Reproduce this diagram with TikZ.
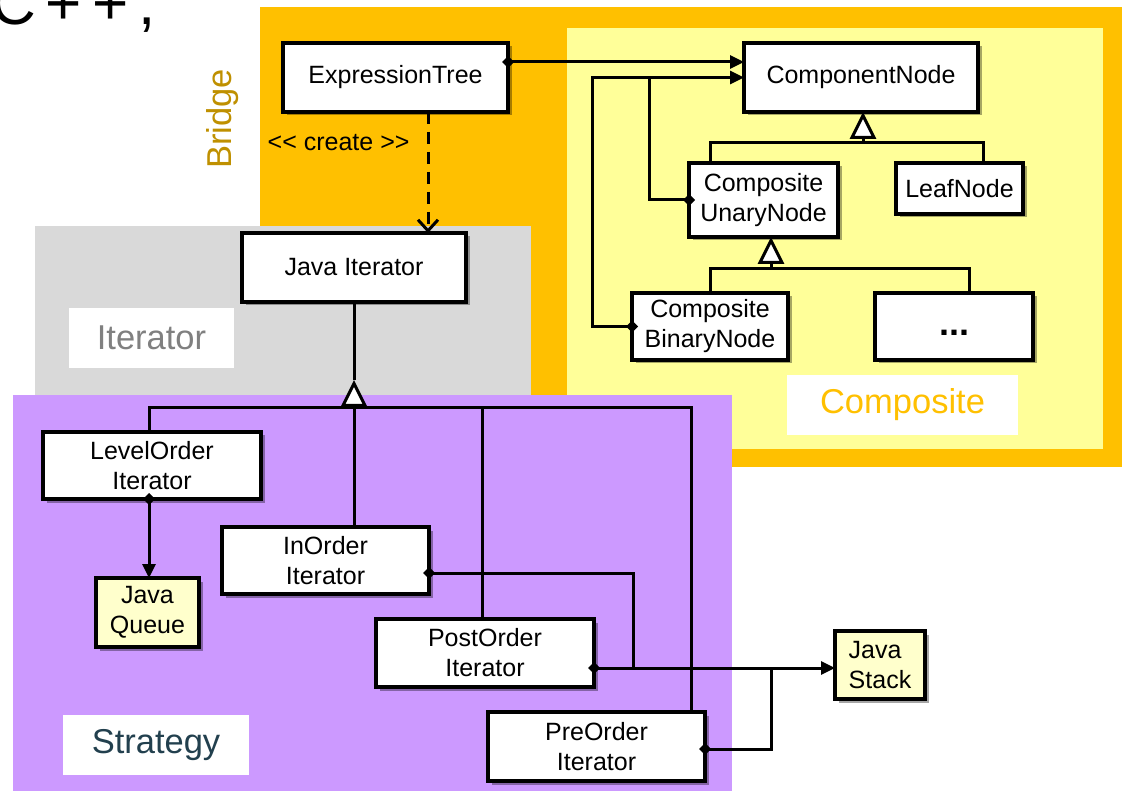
\documentclass[tikz,border=0pt]{standalone}
\usepackage{fontspec}
\setmainfont{Liberation Sans}
% same face without the TeX input mapping, so that << and >> stay as typed
\newfontfamily\plainfont{Liberation Sans}
\usetikzlibrary{arrows.meta,shadows,calc}

\definecolor{bridgebg}{HTML}{FFC000}
\definecolor{compbg}{HTML}{FFFF99}
\definecolor{iterbg}{HTML}{D9D9D9}
\definecolor{stratbg}{HTML}{CC99FF}
\definecolor{storefill}{HTML}{FFFFCC}
\definecolor{bridgetext}{HTML}{BF9000}
\definecolor{comptext}{HTML}{FFC000}
\definecolor{itertext}{HTML}{808080}
\definecolor{strattext}{HTML}{22404E}

\newcommand\classfont{\fontsize{25}{30}\selectfont}
\newcommand\tagfont{\fontsize{34.5}{40}\selectfont}

\begin{document}
\begin{tikzpicture}[x=1pt,y=-1pt,
  box/.style={draw=black, line width=3.3pt, fill=white, inner sep=0pt, outer sep=0pt,
    align=center, font=\classfont,
    drop shadow={shadow xshift=3.5pt, shadow yshift=-3.5pt, opacity=0.35, fill=black}},
  store/.style={box, fill=storefill},
  conn/.style={line width=3pt},
  aggr/.style={conn, {Diamond[length=12pt,width=12pt]}-{Triangle[length=14pt,width=13pt]}, shorten <=-6pt},
  aggrjoin/.style={conn, {Diamond[length=12pt,width=12pt]}-, shorten <=-6pt},
  inherit/.style={conn, -{Triangle[length=27pt,width=26pt,fill=white]}},
  create/.style={conn, dash pattern=on 12pt off 8pt, -{Straight Barb[length=11pt,width=20pt]}},
  tag/.style={fill=white, font=\tagfont, inner sep=0pt},
]
\useasboundingbox (0,0) rectangle (1122,791);

% pattern areas
\fill[bridgebg] (260,7) rectangle (1122,467);
\fill[compbg] (567,28) rectangle (1103,449);
\fill[iterbg] (35,226) rectangle (531,395);
\fill[stratbg] (13,395) rectangle (732,791);

% heading fragment
\node[anchor=base west, inner sep=0pt,
  font=\fontsize{62}{62}\selectfont\addfontfeatures{LetterSpace=16}] (lang) at (-9,25) {C++,};

% pattern names
\node[rotate=90, font=\tagfont, text=bridgetext, inner sep=0pt] (bridgeTag) at (223,119) {Bridge};
\node[tag, text=itertext, minimum width=165pt, minimum height=60pt] (iterTag) at (151.5,338) {Iterator};
\node[tag, text=comptext, minimum width=231pt, minimum height=60pt] (compTag) at (902.5,405) {Composite};
\node[tag, text=strattext, minimum width=186pt, minimum height=60pt] (stratTag) at (156,745) {Strategy};

% classes
\node[box, minimum width=225pt, minimum height=69pt] (tree) at (395.5,77.5) {ExpressionTree};
\node[box, minimum width=234pt, minimum height=69pt] (comp) at (861,77.5) {ComponentNode};
\node[box, minimum width=149pt, minimum height=74pt] (unary) at (763.5,200) {Composite\\UnaryNode};
\node[box, minimum width=127pt, minimum height=51pt] (leaf) at (959.5,188.5) {LeafNode};
\node[box, minimum width=156pt, minimum height=67pt] (binary) at (710,326.5) {Composite\\BinaryNode};
\node[box, minimum width=158pt, minimum height=67pt] (dots) at (954,326.5)
  {\bfseries\fontsize{36}{36}\selectfont\vphantom{Ag}...};
\node[box, minimum width=224pt, minimum height=69pt] (iter) at (354,267.5) {Java Iterator};
\node[box, minimum width=218pt, minimum height=67pt] (level) at (152,465.5) {LevelOrder\\Iterator};
\node[box, minimum width=207pt, minimum height=67pt] (inord) at (325.5,560.5) {InOrder\\Iterator};
\node[box, minimum width=218pt, minimum height=68pt] (post) at (485,653) {PostOrder\\Iterator};
\node[box, minimum width=217pt, minimum height=69pt] (pre) at (596.5,746.5) {PreOrder\\Iterator};
\node[store, minimum width=103pt, minimum height=69pt] (queue) at (147.5,612.5) {Java\\Queue};
\node[store, align=left, minimum width=90pt, minimum height=68pt] (stack) at (880,665) {Java\\Stack};

% bridge: the tree holds the root component
\draw[aggr] ([yshift=15.5pt]tree.east) -- ([yshift=15.5pt]comp.west);

% composite children refer back to components
\draw[aggr] (binary.west) -- ++(-40,0) |- (comp.west);
\draw[aggrjoin] (unary.west) -- ++(-40,0) coordinate (uj) -- (uj |- comp.west);

% composite hierarchy
\coordinate (t1) at ([xshift=2pt,yshift=-31pt]comp.south);
\draw[conn] ([xshift=-53.5pt]unary.north) |- (t1) -| ([xshift=23.5pt]leaf.north);
\draw[inherit] (t1) -- (t1 |- comp.south);

\coordinate (t2) at ([xshift=7.5pt,yshift=-32pt]unary.south);
\draw[conn] (binary.north) |- (t2) -| ([xshift=15pt]dots.north);
\draw[inherit] (t2) -- (t2 |- unary.south);

% creation of the iterator
\coordinate (cr) at ([xshift=32.5pt]tree.south);
\draw[create] (cr) -- (cr |- iter.north)
  node[pos=0.25, left=17pt, font=\plainfont\classfont, inner sep=0pt] {<< create >>};

% iterator strategies
\coordinate (t3) at ([yshift=-106pt]iter.south);
\coordinate (apex) at ([yshift=-78pt]iter.south);
\coordinate (lvTop) at ([xshift=-3pt]level.north);
\coordinate (preTop) at ([xshift=94.5pt]pre.north);
\coordinate (postTop) at ([xshift=-3pt]post.north);
\draw[conn] (iter.south) -- (apex);
\draw[conn] (lvTop) |- (t3) -| (preTop);
\draw[conn] (t3) -- (t3 |- inord.north);
\draw[conn] (postTop |- t3) -- (postTop);
\draw[inherit] (t3) -- (apex);

% containers used by the strategies
\coordinate (lvBot) at ([xshift=-3pt]level.south);
\draw[aggr] (lvBot) -- (lvBot |- queue.north);

\coordinate (stackIn) at ([yshift=-3pt]stack.west);
\draw[aggr] (post.east |- stackIn) -- (stackIn);
\draw[aggrjoin] ([yshift=-12.5pt]inord.east) -- ++(204,0) coordinate (ij) -- (ij |- stackIn);
\draw[aggrjoin] ([yshift=-2.5pt]pre.east) -- ++(66,0) coordinate (pj) -- (pj |- stackIn);
\end{tikzpicture}
\end{document}
